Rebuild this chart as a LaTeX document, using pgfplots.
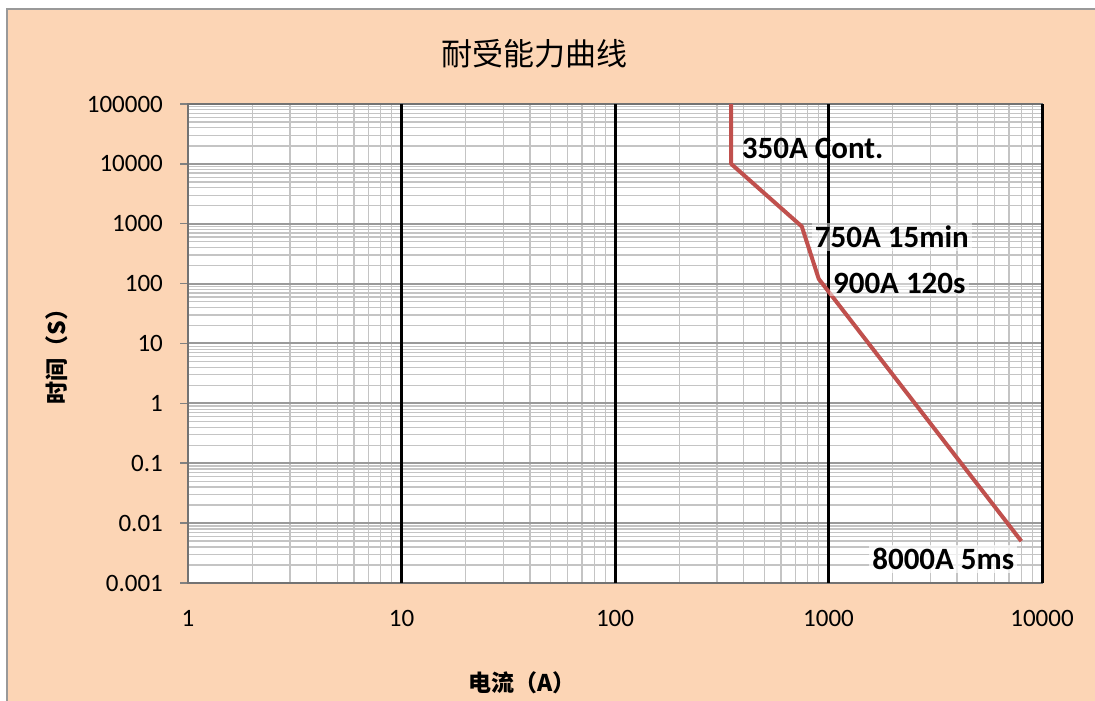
\documentclass[border=0pt]{standalone}
\usepackage{pgfplots}
\pgfplotsset{compat=1.18}
\usepackage{fontspec}
\setmainfont{Carlito}
\newfontfamily\cjk{Noto Sans CJK SC}
\definecolor{peach}{HTML}{FCD5B5}
\definecolor{redline}{HTML}{C0504D}
\definecolor{majgray}{HTML}{9A9A9A}
\definecolor{mingray}{HTML}{C4C4C4}
\begin{document}
\begin{tikzpicture}[x=1pt,y=1pt]
\clip (0,0) rectangle (1095,701);
\fill[white] (0,0) rectangle (1095,701);
\filldraw[fill=peach, draw=gray!80, line width=1.5pt] (7,-20) rectangle (1120,692);
\node[font=\cjk\fontsize{31}{36}\selectfont] at (534,647) {耐受能力曲线};
\node[font=\cjk\bfseries\fontsize{23}{27}\selectfont, rotate=90] at (57,350) {时间（S）};
\node[font=\cjk\bfseries\fontsize{23}{27}\selectfont] at (522,18) {电流（A）};
\begin{axis}[
  at={(188pt,118pt)}, anchor=south west,
  width=854pt, height=479pt, scale only axis,
  xmode=log, ymode=log,
  xmin=1, xmax=10000, ymin=0.001, ymax=100000,
  xtick={1},
  xticklabels={1},
  extra x ticks={10,100,1000,10000}, extra x tick labels={10,100,1000,10000},
  extra x tick style={xmajorgrids=true, major x grid style={black, line width=3pt}},
  ytick={0.001,0.01,0.1,1,10,100,1000,10000,100000},
  yticklabels={0.001,0.01,0.1,1,10,100,1000,10000,100000},
  minor xtick={2,3,4,5,6,7,8,9,20,30,40,50,60,70,80,90,200,300,400,500,600,700,800,900,2000,3000,4000,5000,6000,7000,8000,9000},
  minor ytick={0.002,0.003,0.004,0.005,0.006,0.007,0.008,0.009,0.02,0.03,0.04,0.05,0.06,0.07,0.08,0.09,0.2,0.3,0.4,0.5,0.6,0.7,0.8,0.9,2,3,4,5,6,7,8,9,20,30,40,50,60,70,80,90,200,300,400,500,600,700,800,900,2000,3000,4000,5000,6000,7000,8000,9000,20000,30000,40000,50000,60000,70000,80000,90000},
  xmajorgrids=false, xminorgrids=true, ymajorgrids=true, yminorgrids=true,
  minor x grid style={mingray, line width=1.3pt},
  major y grid style={majgray, line width=2pt},
  minor y grid style={mingray, line width=1.3pt},
  tick align=outside,
  major tick length=8pt, minor tick length=0pt,
  ytick pos=left, xtick pos=bottom,
  xtick style={draw=none},
  ytick style={draw=gray, line width=1.5pt},
  axis line style={draw=gray!90!black, line width=2pt},
  axis background/.style={fill=white},
  tick label style={font=\fontsize{25}{30}\selectfont, inner sep=0pt},
  yticklabel shift=17pt,
  xticklabel shift=19pt,
  clip=true,
]
\addplot[color=redline, line width=4pt, line join=round] coordinates {
  (350,100000) (350,10000) (750,900) (900,120) (8000,0.005)
};
\node[anchor=west, inner sep=3pt, font=\bfseries\fontsize{31}{36}\selectfont] at (axis cs:380,18400) {350A Cont.};
\node[anchor=west, inner sep=3pt, fill=white, fill opacity=0.5, text opacity=1, font=\bfseries\fontsize{31}{36}\selectfont] at (axis cs:835,601) {750A 15min};
\node[anchor=west, inner sep=3pt, fill=white, fill opacity=0.5, text opacity=1, font=\bfseries\fontsize{31}{36}\selectfont] at (axis cs:1015,102) {900A 120s};
\node[anchor=west, inner sep=3pt, fill=white, fill opacity=0.7, text opacity=1, font=\bfseries\fontsize{31}{36}\selectfont] at (axis cs:1550,0.00252) {8000A 5ms};
\end{axis}
\end{tikzpicture}
\end{document}
